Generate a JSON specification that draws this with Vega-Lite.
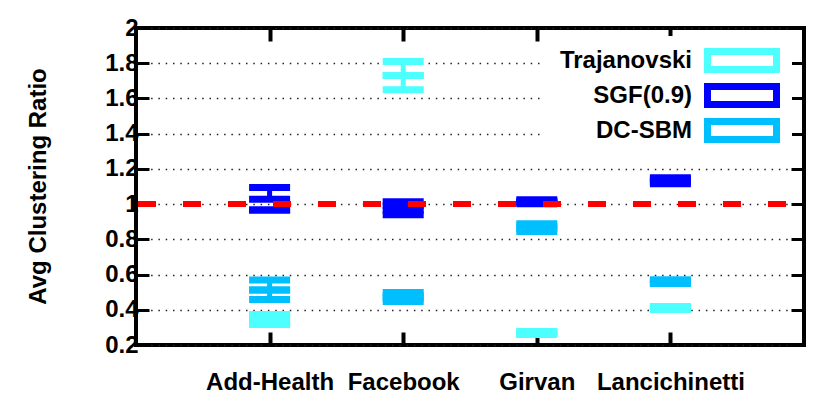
{
  "$schema": "https://vega.github.io/schema/vega-lite/v6.json",
  "width": 668,
  "height": 317,
  "autosize": {"type": "none"},
  "padding": {"left": 136, "top": 28, "right": 26, "bottom": 70},
  "background": "white",
  "config": {
    "font": "Liberation Sans",
    "view": {"stroke": "black", "strokeWidth": 4},
    "axis": {"domain": false}
  },
  "data": {
    "values": [
      {"dataset": "Add-Health", "series": "Trajanovski", "min": 0.316, "q1": 0.335, "q3": 0.355, "max": 0.373},
      {"dataset": "Add-Health", "series": "SGF(0.9)", "min": 0.966, "q1": 0.966, "q3": 1.028, "max": 1.094},
      {"dataset": "Add-Health", "series": "DC-SBM", "min": 0.458, "q1": 0.512, "q3": 0.512, "max": 0.569},
      {"dataset": "Facebook", "series": "Trajanovski", "min": 1.65, "q1": 1.73, "q3": 1.73, "max": 1.81},
      {"dataset": "Facebook", "series": "SGF(0.9)", "min": 0.94, "q1": 0.965, "q3": 0.99, "max": 1.014},
      {"dataset": "Facebook", "series": "DC-SBM", "min": 0.447, "q1": 0.465, "q3": 0.48, "max": 0.498},
      {"dataset": "Girvan", "series": "Trajanovski", "min": 0.26, "q1": 0.266, "q3": 0.27, "max": 0.277},
      {"dataset": "Girvan", "series": "SGF(0.9)", "min": 1.002, "q1": 1.01, "q3": 1.015, "max": 1.025},
      {"dataset": "Girvan", "series": "DC-SBM", "min": 0.844, "q1": 0.86, "q3": 0.875, "max": 0.889},
      {"dataset": "Lancichinetti", "series": "Trajanovski", "min": 0.401, "q1": 0.407, "q3": 0.412, "max": 0.418},
      {"dataset": "Lancichinetti", "series": "SGF(0.9)", "min": 1.116, "q1": 1.128, "q3": 1.138, "max": 1.15},
      {"dataset": "Lancichinetti", "series": "DC-SBM", "min": 0.549, "q1": 0.557, "q3": 0.563, "max": 0.571}
    ]
  },
  "layer": [
    {
      "mark": {"type": "rule", "strokeWidth": 5},
      "encoding": {
        "x": {
          "field": "dataset", "type": "nominal",
          "scale": {"type": "point", "padding": 1, "domain": ["Add-Health", "Facebook", "Girvan", "Lancichinetti"]},
          "axis": {"orient": "top", "labels": false, "title": null, "tickSize": -13, "tickWidth": 4, "tickColor": "black", "grid": false, "domain": false}
        },
        "y": {
          "field": "max", "type": "quantitative",
          "scale": {"domain": [0.2, 2], "nice": false, "zero": false},
          "axis": {"orient": "right", "labels": false, "title": null, "values": [0.2, 0.4, 0.6, 0.8, 1, 1.2, 1.4, 1.6, 1.8, 2], "tickSize": -13, "tickWidth": 3, "tickColor": "black", "grid": false, "domain": false}
        },
        "y2": {"field": "q3"},
        "color": {"field": "series", "type": "nominal"}
      }
    },
    {
      "mark": {"type": "rule", "strokeWidth": 5},
      "encoding": {
        "x": {"field": "dataset", "type": "nominal", "axis": null},
        "y": {"field": "q1", "type": "quantitative", "axis": null},
        "y2": {"field": "min"},
        "color": {"field": "series", "type": "nominal"}
      }
    },
    {
      "transform": [{"fold": ["min", "q1", "q3", "max"], "as": ["stat", "val"]}],
      "mark": {"type": "tick", "thickness": 7, "orient": "horizontal", "opacity": 1},
      "encoding": {
        "x": {
          "field": "dataset", "type": "nominal",
          "axis": {"orient": "bottom", "title": null, "labelAngle": 0, "labelFontSize": 24, "labelFontWeight": "bold", "labelColor": "black", "labelPadding": 38, "tickSize": -13, "tickWidth": 4, "tickColor": "black", "grid": false, "domain": false}
        },
        "y": {
          "field": "val", "type": "quantitative",
          "axis": {"orient": "left", "title": "Avg Clustering Ratio", "titleFontSize": 24, "titleFontWeight": "bold", "titleColor": "black", "titleX": -98, "titleY": 158, "titleAngle": 270, "titleAlign": "center", "titleBaseline": "middle", "values": [0.2, 0.4, 0.6, 0.8, 1, 1.2, 1.4, 1.6, 1.8, 2], "format": "~g", "labelFontSize": 24, "labelFontWeight": "bold", "labelColor": "black", "labelPadding": 11, "tickSize": -13, "tickWidth": 3, "tickColor": "black", "grid": true, "gridColor": "#222222", "gridWidth": 1.3, "gridDash": [1.5, 5.8], "domain": false}
        },
        "size": {"value": 41},
        "color": {
          "field": "series", "type": "nominal",
          "scale": {"domain": ["Trajanovski", "SGF(0.9)", "DC-SBM"], "range": ["#4dffff", "#0000ff", "#00bfff"]},
          "legend": {
            "title": null, "orient": "none", "legendX": 409, "legendY": 8, "padding": 12, "fillColor": "white",
            "labelFontSize": 24, "labelFontWeight": "bold", "labelColor": "black", "labelAlign": "right", "labelOffset": -62.5,
            "symbolType": "M-3.04,-1H3.04V1H-3.04Z M-2.48,-0.44V0.44H2.48V-0.44Z", "symbolSize": 625, "symbolStrokeWidth": 0,
            "symbolOffset": 172.5, "symbolOpacity": 1,
            "rowPadding": 10
          }
        }
      }
    },
    {
      "mark": {"type": "rule", "color": "#ff0000", "strokeWidth": 6, "strokeDash": [18, 27], "strokeDashOffset": 27},
      "encoding": {"y": {"datum": 1, "type": "quantitative", "axis": null}}
    }
  ],
  "resolve": {"axis": {"x": "independent", "y": "independent"}}
}
